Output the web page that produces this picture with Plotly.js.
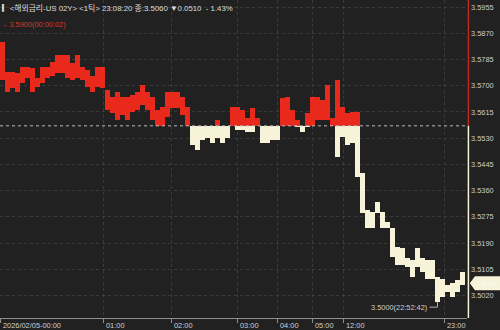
<!DOCTYPE html>
<html><head><meta charset="utf-8">
<script src="https://cdn.plot.ly/plotly-3.0.1.min.js"></script>
<style>html,body{margin:0;padding:0;background:#212121;}#c{width:500px;height:330px;}</style>
</head><body><div id="c"></div>
<script>
// ---- data ----
const hiVals = [3.5843,3.5746,3.5746,3.5740,3.5762,3.5762,3.5757,3.5724,3.5762,3.5762,
  3.5778,3.5800,3.5800,3.5800,3.5773,3.5800,3.5762,3.5751,3.5730,3.5762,
  3.5762,3.5686,3.5665,3.5681,3.5665,3.5665,3.5670,3.5681,3.5703,3.5681,
  3.5665,3.5622,3.5632,3.5681,3.5681,3.5681,3.5665,3.5632,3.5570,3.5570,
  3.5570,3.5570,3.5570,3.5589,3.5570,3.5570,3.5632,3.5632,3.5622,3.5594,
  3.5627,3.5594,3.5570,3.5570,3.5570,3.5570,3.5659,3.5665,3.5622,3.5589,
  3.5570,3.5611,3.5665,3.5665,3.5654,3.5703,3.5594,3.5719,3.5632,3.5611,
  3.5616,3.5616,3.5416,3.5297,3.5292,3.5324,3.5292,3.5259,3.5238,3.5178,
  3.5173,3.5140,3.5135,3.5173,3.5140,3.5135,3.5135,3.5081,3.5075,3.5054,
  3.5059,3.5070,3.5097];
const loVals = [3.5719,3.5681,3.5692,3.5681,3.5708,3.5724,3.5681,3.5697,3.5708,3.5724,
  3.5730,3.5740,3.5740,3.5724,3.5719,3.5724,3.5719,3.5697,3.5681,3.5697,
  3.5692,3.5622,3.5611,3.5589,3.5605,3.5589,3.5616,3.5622,3.5638,3.5622,
  3.5589,3.5570,3.5570,3.5600,3.5627,3.5627,3.5605,3.5570,3.5508,3.5492,
  3.5524,3.5530,3.5513,3.5530,3.5513,3.5530,3.5570,3.5557,3.5557,3.5551,
  3.5551,3.5570,3.5513,3.5513,3.5524,3.5524,3.5570,3.5570,3.5570,3.5567,
  3.5551,3.5567,3.5570,3.5589,3.5589,3.5589,3.5570,3.5470,3.5535,3.5508,
  3.5513,3.5405,3.5286,3.5238,3.5238,3.5286,3.5238,3.5238,3.5146,3.5119,
  3.5119,3.5113,3.5081,3.5113,3.5097,3.5075,3.5075,3.5000,3.5016,3.5032,
  3.5016,3.5032,3.5054];
const prevClose = 3.5570;
const lastPrice = 3.5060;
const highMark = 3.5900;
const highMarkText = "\u21903.5900(00:00:02)";
const lowMark = 3.5000;
const lowMarkText = "3.5000(22:52:42)";
const tickLabels = ["2026/02/05-00:00","01:00","02:00","03:00","04:00","05:00","12:00","23:00"];
const tickIndex = [-0.5,20.1,33.7,46.9,54.9,61.9,68.1,88.3];
const yTicks = [3.5955,3.5870,3.5785,3.5700,3.5615,3.5530,3.5445,3.5360,3.5275,3.5190,3.5105,3.5020];
const titleText = "\u258E<해외금리-US 02Y> <1틱> 23:08:20 종:3.5060 \u25BC0.0510  - 1.43%";

// ---- fonts ----
const FONT = "Liberation Sans Narrow, Liberation Sans, DejaVu Sans, sans-serif";
const TFONT = "Liberation Sans Narrow, Liberation Sans, Noto Sans CJK KR, sans-serif";
const tickSize = 7.4;
const titleSize = 7.8;

// ---- build ----
const RED = "#e8291c", CREAM = "#f6f3d8", TXT = "#cfcfcf", GRID = "#3b3b3b";
const idx = hiVals.map((_, i) => i);
const redBase = loVals.map(v => Math.max(v, prevClose));
const redH = hiVals.map((v, i) => Math.max(v, prevClose) - redBase[i]);
const crBase = loVals.map(v => Math.min(v, prevClose));
const crH = hiVals.map((v, i) => Math.min(v, prevClose) - crBase[i]);

const traces = [
  {type:"bar", x: idx, y: redH, base: redBase, width: 1, marker:{color: RED, line:{width:0}}, hoverinfo:"skip"},
  {type:"bar", x: idx, y: crH, base: crBase, width: 1, marker:{color: CREAM, line:{width:0}}, hoverinfo:"skip"}
];

const yMin = 3.4947, yMax = 3.5978;
const pxPerUnit = 318 / (yMax - yMin);
let minIdx = 0; loVals.forEach((v, i) => { if (v < loVals[minIdx]) minIdx = i; });
const off = 5.5 / pxPerUnit;
const th = 7 / pxPerUnit;

const annotations = [
  {xref:"paper", yref:"paper", x:0, y:1, yshift:-8, xanchor:"left", yanchor:"middle", showarrow:false,
   text: titleText, font:{family:TFONT, size:titleSize, color:"#dcdcdc"}},
  {xref:"paper", yref:"y", x:0, y:highMark, xanchor:"left", yanchor:"middle", showarrow:false,
   text: highMarkText, font:{family:FONT, size:tickSize, color:"#d23a2c"}},
  {xref:"x", yref:"y", x:minIdx - 1.7, y:lowMark, yshift:-5.5, xanchor:"right", yanchor:"middle", showarrow:false,
   text: lowMarkText, font:{family:FONT, size:tickSize, color:TXT}},
  {xref:"paper", yref:"y", x:1.042, y:lastPrice, xanchor:"center", yanchor:"middle", showarrow:false,
   text: lastPrice.toFixed(4), font:{family:FONT, size:tickSize, color:"#fbfaef"}}
];
tickLabels.forEach((t, i) => annotations.push({
  xref:"x", yref:"paper", x:tickIndex[i], y:0, yshift:-1, xshift:1, xanchor:"left", yanchor:"top",
  showarrow:false, text:t, font:{family:FONT, size:tickSize, color:TXT}
}));

const shapes = [
  {type:"line", xref:"paper", yref:"y", x0:0, x1:1, y0:prevClose, y1:prevClose,
   line:{color:"#b8b8b8", width:1, dash:"dot"}},
  {type:"line", xref:"paper", yref:"y", x0:1.003, x1:1.003, y0:prevClose, y1:yMax,
   line:{color:"#c0281c", width:1.5}},
  {type:"line", xref:"paper", yref:"y", x0:1.003, x1:1.003, y0:yMin, y1:prevClose,
   line:{color:CREAM, width:1.5}},
  {type:"path", xref:"paper", yref:"y", fillcolor:CREAM, line:{width:0},
   path:`M 1.006,${lastPrice} L 1.017,${lastPrice+th} L 1.071,${lastPrice+th} L 1.071,${lastPrice-th} L 1.017,${lastPrice-th} Z`},
  {type:"path", xref:"x", yref:"y", line:{color:"#b0b0b0", width:1},
   path:`M ${minIdx-1.6},${lowMark-off} L ${minIdx},${lowMark-off} L ${minIdx},${loVals[minIdx]}`}
];

const layout = {
  width:500, height:330, margin:{l:0, r:33, t:0, b:12},
  paper_bgcolor:"#212121", plot_bgcolor:"#212121",
  barmode:"overlay", bargap:0, showlegend:false,
  xaxis:{range:[-0.5, 92.9], tickvals:tickIndex, showticklabels:false, ticks:"outside", ticklen:4,
    tickcolor:"#8e8e8e", showline:true, linecolor:"#8e8e8e", linewidth:1,
    showgrid:true, gridcolor:GRID, griddash:"dot", gridwidth:1, zeroline:false, fixedrange:true},
  yaxis:{range:[yMin, yMax], side:"right", tickvals:yTicks, ticktext:yTicks.map(v => v.toFixed(4)),
    ticks:"", showline:false, showgrid:true, gridcolor:GRID, griddash:"dot", gridwidth:1, zeroline:false,
    tickfont:{family:FONT, size:tickSize, color:TXT}, ticklabelstandoff:3, fixedrange:true},
  annotations, shapes
};
Plotly.newPlot("c", traces, layout, {staticPlot:true, displayModeBar:false});
</script></body></html>
